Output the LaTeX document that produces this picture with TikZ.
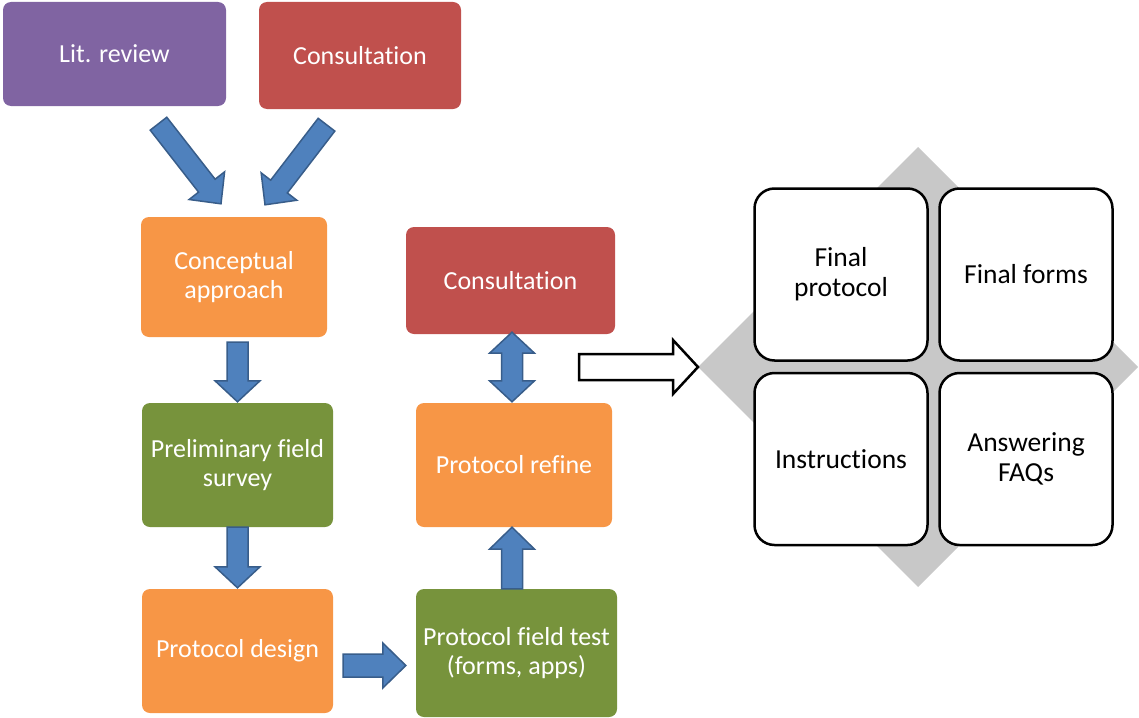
\documentclass[tikz,border=0pt]{standalone}
\usepackage{fontspec}
\setmainfont[Ligatures=NoCommon]{Carlito}
\usetikzlibrary{calc,shapes.geometric}
\definecolor{cpurple}{HTML}{8064A2}
\definecolor{cred}{HTML}{C0504D}
\definecolor{corange}{HTML}{F79646}
\definecolor{cgreen}{HTML}{77933C}
\definecolor{cblue}{HTML}{4F81BD}
\definecolor{cbluedark}{HTML}{385D8A}
\definecolor{cgrey}{RGB}{200,200,200}
% #1 style, #2 start, #3 tip, #4 half shaft, #5 half head, #6 head length
\newcommand\blockarrow[6]{%
  \path ($(#3)!#6!(#2)$) coordinate (bahead);
  \draw[#1] ($(#2)!#4!90:(#3)$) -- ($(bahead)!#4!90:(#3)$) -- ($(bahead)!#5!90:(#3)$) -- (#3)
    -- ($(bahead)!#5!-90:(#3)$) -- ($(bahead)!#4!-90:(#3)$) -- ($(#2)!#4!-90:(#3)$) -- cycle;}
% double-headed version
\newcommand\dblockarrow[6]{%
  \path ($(#3)!#6!(#2)$) coordinate (bahead) ($(#2)!#6!(#3)$) coordinate (batail);
  \draw[#1] (#2) -- ($(batail)!#5!90:(#3)$) -- ($(batail)!#4!90:(#3)$) -- ($(bahead)!#4!90:(#3)$)
    -- ($(bahead)!#5!90:(#3)$) -- (#3) -- ($(bahead)!#5!-90:(#3)$) -- ($(bahead)!#4!-90:(#3)$)
    -- ($(batail)!#4!-90:(#3)$) -- ($(batail)!#5!-90:(#3)$) -- cycle;}
\tikzset{
  box/.style={rectangle, rounded corners=8pt, text=white, align=center, inner sep=2pt,
    font=\fontsize{26}{29.5}\selectfont},
  wbox/.style={rectangle, rounded corners=20pt, draw=black, line width=2.5pt, fill=white,
    align=center, minimum width=173pt, minimum height=172pt, inner sep=2pt,
    font=\fontsize{27.5}{30}\selectfont},
  bluearr/.style={fill=cblue, draw=cbluedark, line width=1.5pt, line join=miter},
  hollowarr/.style={fill=white, draw=black, line width=2.5pt, line join=miter},
}
\begin{document}
\begin{tikzpicture}[x=1pt,y=-1pt]
\useasboundingbox (0,0) rectangle (1139,717);

% left flow boxes
\node[box, fill=cpurple, minimum width=223pt, minimum height=104pt] (lit) at (114.5,54) {Lit. review};
\node[box, fill=cred, minimum width=202pt, minimum height=107pt] (cons1) at (360,55.5) {Consultation};
\node[box, fill=corange, minimum width=186pt, minimum height=120pt] (concept) at (234,277) {Conceptual\\approach};
\node[box, fill=cgreen, minimum width=191pt, minimum height=124pt] (prelim) at (237.5,465) {Preliminary field\\survey};
\node[box, fill=corange, minimum width=191pt, minimum height=124pt] (design) at (237.5,651) {Protocol design};
\node[box, fill=cred, minimum width=209pt, minimum height=107pt] (cons2) at (510.5,280.5) {Consultation};
\node[box, fill=corange, minimum width=196pt, minimum height=124pt] (refine) at (514,465) {Protocol refine};
\node[box, fill=cgreen, minimum width=201pt, minimum height=128pt] (field) at (516.5,653) {Protocol field test\\(forms, apps)};

% arrow end points
\coordinate (a1s) at ($(lit.south)+(44,17.5)$);
\coordinate (a1e) at ($(concept.north)+(-13,-13)$);
\coordinate (a2s) at ($(cons1.south)+(-33.5,15.5)$);
\coordinate (a2e) at ($(concept.north)+(31,-12)$);
\coordinate (a3s) at ($(concept.south)+(3.5,5)$);
\coordinate (a3e) at ($(prelim.north)+(0,-1)$);
\coordinate (a4s) at (prelim.south);
\coordinate (a4e) at ($(design.north)+(0,-1)$);
\coordinate (a5s) at ($(design.east)+(10,14.5)$);
\coordinate (a5e) at ($(field.west)+(-10,12.5)$);
\coordinate (a6s) at ($(field.north)+(-4.5,0)$);
\coordinate (a6e) at ($(refine.south)+(-2,0)$);
\coordinate (a7s) at ($(refine.north)+(-2,-1)$);
\coordinate (a7e) at ($(cons2.south)+(1.5,-2)$);

\blockarrow{bluearr}{a1s}{a1e}{10.5pt}{22.5pt}{23pt}
\blockarrow{bluearr}{a2s}{a2e}{10.5pt}{22.5pt}{23pt}
\blockarrow{bluearr}{a3s}{a3e}{10.5pt}{22.5pt}{21pt}
\blockarrow{bluearr}{a4s}{a4e}{10.5pt}{22.5pt}{21pt}
\blockarrow{bluearr}{a5s}{a5e}{11.5pt}{22.5pt}{23pt}
\blockarrow{bluearr}{a6s}{a6e}{10.5pt}{22.5pt}{22pt}
\dblockarrow{bluearr}{a7s}{a7e}{10.5pt}{22.5pt}{21pt}

% right: diamond with four boxes
\node[diamond, fill=cgrey, minimum width=440pt, minimum height=440pt, inner sep=0pt, outer sep=0pt, aspect=1] (dia) at (918,367) {};
\node[wbox] (fp) at (841,274.5) {Final\\protocol};
\node[wbox] (ff) at (1026,274.5) {Final forms};
\node[wbox] (ins) at (841,459) {Instructions};
\node[wbox] (faq) at (1026,459) {Answering\\FAQs};

\coordinate (hs) at (579,367);
\blockarrow{hollowarr}{hs}{dia.west}{13pt}{27pt}{25pt}
\end{tikzpicture}
\end{document}
